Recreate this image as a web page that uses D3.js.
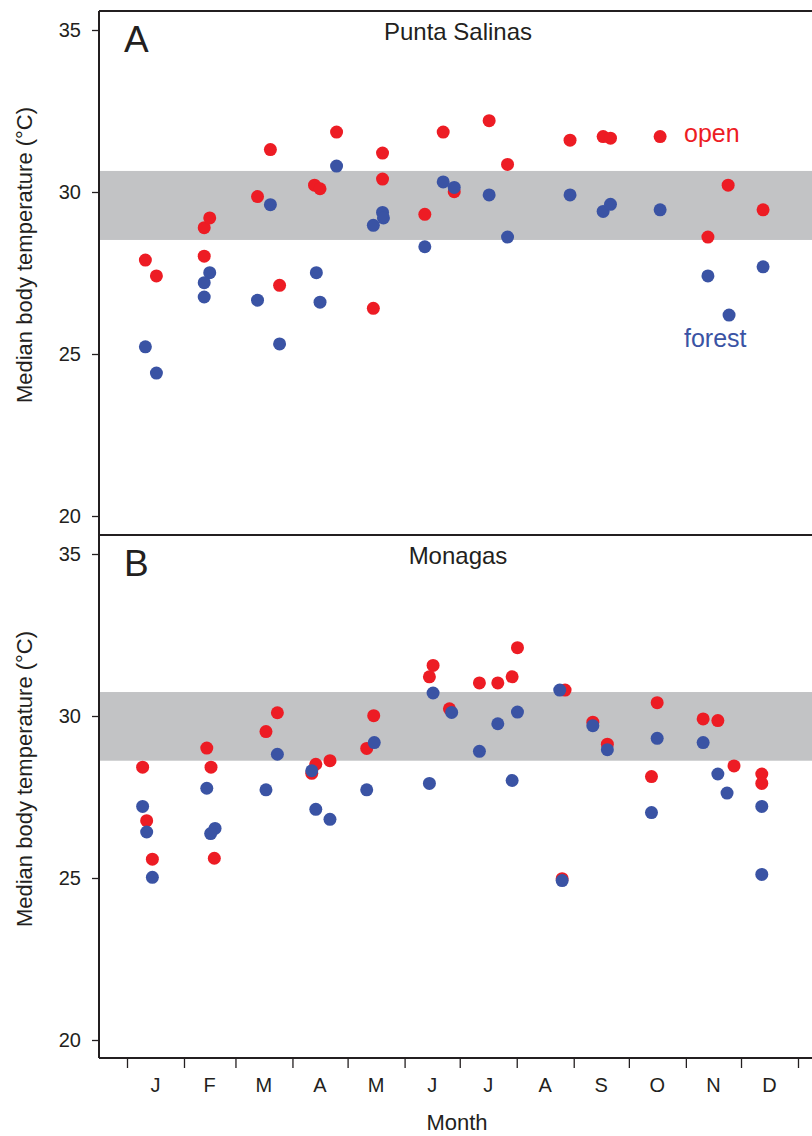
<!DOCTYPE html>
<html>
<head>
<meta charset="utf-8">
<script src="https://cdn.jsdelivr.net/npm/d3@7"></script>
<style>
  body { margin: 0; background: #fff; }
  svg text { font-family: "Liberation Sans", Arial, Helvetica, sans-serif; fill: #231f20; }
</style>
</head>
<body>
<svg id="chart" width="812" height="1136"></svg>
<script>
// month labels and the day-of-year where each month starts
const months = ['J', 'F', 'M', 'A', 'M', 'J', 'J', 'A', 'S', 'O', 'N', 'D'];
const monthStarts = [0, 31, 59, 90, 120, 151, 181, 212, 243, 273, 304, 334, 365];
const yTicks = [20, 25, 30, 35];

// [day of year, median body temperature]
const puntaOpen = [
  [10, 27.90], [16, 27.41], [42, 28.02], [42, 28.90], [45, 29.20], [71, 29.86],
  [78, 31.31], [83, 27.12], [102, 30.21], [105, 30.10], [114, 31.85], [134, 26.41],
  [139, 30.40], [139, 31.20], [162, 29.31], [172, 31.85], [178, 30.01], [197, 32.20],
  [207, 30.85], [241, 31.60], [259, 31.71], [263, 31.66], [290, 31.71], [316, 28.61],
  [327, 30.21], [346, 29.45],
];
const puntaForest = [
  [10, 25.22], [16, 24.41], [45, 27.51], [42, 27.20], [42, 26.76], [71, 26.66],
  [78, 29.61], [83, 25.31], [103, 27.51], [105, 26.60], [114, 30.80], [139, 29.37],
  [139.5, 29.20], [134, 28.97], [162, 28.31], [172, 30.31], [178, 30.14], [197, 29.91],
  [207, 28.61], [241, 29.91], [259, 29.40], [263, 29.62], [290, 29.45], [316, 27.41],
  [327.5, 26.20], [346, 27.69],
];
const monagasOpen = [
  [8.5, 28.42], [10.7, 26.77], [13.8, 25.58], [43.4, 29.01], [45.7, 28.42], [47.5, 25.61],
  [75.6, 29.52], [81.8, 30.10], [102.7, 28.51], [100.5, 28.23], [110.4, 28.62], [134.2, 30.01],
  [130.4, 29.00], [166.5, 31.56], [164.5, 31.21], [175.4, 30.22], [191.7, 31.02], [201.7, 31.02],
  [209.5, 31.21], [212.4, 32.11], [238.3, 30.80], [236.7, 24.98], [253.4, 29.81], [261.3, 29.13],
  [288.4, 30.41], [285.3, 28.13], [313.4, 29.91], [321.4, 29.86], [330.2, 28.46], [345.3, 28.21],
  [345.3, 27.92],
];
const monagasForest = [
  [8.5, 27.21], [10.7, 26.42], [13.8, 25.02], [43.4, 27.77], [47.9, 26.53], [45.5, 26.37],
  [81.8, 28.82], [75.6, 27.72], [100.5, 28.31], [102.7, 27.12], [110.4, 26.81], [134.5, 29.18],
  [130.4, 27.72], [166.5, 30.71], [164.5, 27.92], [176.6, 30.11], [191.7, 28.91], [201.7, 29.76],
  [212.4, 30.12], [209.5, 28.01], [235.4, 30.80], [236.7, 24.92], [253.4, 29.70], [261.3, 28.96],
  [288.4, 29.31], [285.3, 27.02], [313.4, 29.18], [321.4, 28.21], [326.4, 27.62], [345.3, 27.21],
  [345.3, 25.11],
];

// shaded range of preferred body temperature
const puntaBand = [28.52, 30.65];
const monagasBand = [28.62, 30.74];

const RED = '#ed1c24';
const BLUE = '#3a53a4';
const INK = '#231f20';
const DOT_R = 6.5;
const LEFT = 99;
const RIGHT = 812;

const svg = d3.select('#chart');

const x = d3.scaleLinear().domain([0, 365]).range([127, 798]);

const panels = [
  { letter: 'A', title: 'Punta Salinas', open: puntaOpen, forest: puntaForest, band: puntaBand,
    top: 11, bottom: 535, y35: 30, y20: 516, legend: true },
  { letter: 'B', title: 'Monagas', open: monagasOpen, forest: monagasForest, band: monagasBand,
    top: 535, bottom: 1058, y35: 554, y20: 1040, legend: false },
];

panels.forEach((p) => {
  const y = d3.scaleLinear().domain([20, 35]).range([p.y20, p.y35]);
  const g = svg.append('g');

  // grey band
  g.append('rect')
    .attr('x', LEFT)
    .attr('width', RIGHT - LEFT)
    .attr('y', y(p.band[1]))
    .attr('height', y(p.band[0]) - y(p.band[1]))
    .attr('fill', '#c2c3c5');

  // points: open first, forest drawn on top
  g.append('g').selectAll('circle')
    .data(p.open)
    .join('circle')
    .attr('cx', d => x(d[0]))
    .attr('cy', d => y(d[1]))
    .attr('r', DOT_R)
    .attr('fill', RED);

  g.append('g').selectAll('circle')
    .data(p.forest)
    .join('circle')
    .attr('cx', d => x(d[0]))
    .attr('cy', d => y(d[1]))
    .attr('r', DOT_R)
    .attr('fill', BLUE);

  // y axis
  const yAxis = g.append('g')
    .attr('transform', `translate(${LEFT},0)`)
    .call(d3.axisLeft(y).tickValues(yTicks).tickSize(7).tickPadding(11).tickSizeOuter(0));
  yAxis.select('.domain').remove();
  yAxis.selectAll('.tick line').attr('stroke', INK).attr('stroke-width', 1.3);
  yAxis.selectAll('.tick text')
    .attr('font-size', 20)
    .attr('font-family', '"Liberation Sans", Arial, sans-serif')
    .attr('fill', INK);

  // frame: left line and top line
  g.append('line')
    .attr('x1', LEFT).attr('x2', LEFT)
    .attr('y1', p.top).attr('y2', p.bottom)
    .attr('stroke', INK).attr('stroke-width', 2);
  g.append('line')
    .attr('x1', LEFT).attr('x2', RIGHT)
    .attr('y1', p.top).attr('y2', p.top)
    .attr('stroke', INK).attr('stroke-width', 2);

  // y label
  const mid = (p.y35 + p.y20) / 2 - 18;
  g.append('text')
    .attr('transform', `translate(32,${mid}) rotate(-90)`)
    .attr('text-anchor', 'middle')
    .attr('font-size', 22)
    .text('Median body temperature (°C)');

  // panel letter and site title
  g.append('text')
    .attr('x', 124)
    .attr('y', p.top + 41)
    .attr('font-size', 37)
    .text(p.letter);
  g.append('text')
    .attr('x', 458)
    .attr('y', p.top + 29)
    .attr('text-anchor', 'middle')
    .attr('font-size', 24)
    .text(p.title);

  if (p.legend) {
    g.append('text')
      .attr('x', 684).attr('y', 142)
      .attr('font-size', 25)
      .style('fill', RED)
      .text('open');
    g.append('text')
      .attr('x', 684).attr('y', 347)
      .attr('font-size', 25)
      .style('fill', BLUE)
      .text('forest');
  }
});

// x axis at bottom of panel B
const xAxisY = 1058;
svg.append('line')
  .attr('x1', LEFT).attr('x2', RIGHT)
  .attr('y1', xAxisY).attr('y2', xAxisY)
  .attr('stroke', INK).attr('stroke-width', 2);

const xAxis = svg.append('g')
  .attr('transform', `translate(0,${xAxisY})`)
  .call(d3.axisBottom(x).tickValues(monthStarts).tickSize(10).tickFormat(''));
xAxis.select('.domain').remove();
xAxis.selectAll('.tick line').attr('stroke', INK).attr('stroke-width', 1.3);

svg.append('g').selectAll('text')
  .data(months)
  .join('text')
  .attr('x', (d, i) => x((monthStarts[i] + monthStarts[i + 1]) / 2))
  .attr('y', 1092)
  .attr('text-anchor', 'middle')
  .attr('font-size', 20)
  .text(d => d);

svg.append('text')
  .attr('x', 457)
  .attr('y', 1130)
  .attr('text-anchor', 'middle')
  .attr('font-size', 22)
  .text('Month');
</script>
</body>
</html>
